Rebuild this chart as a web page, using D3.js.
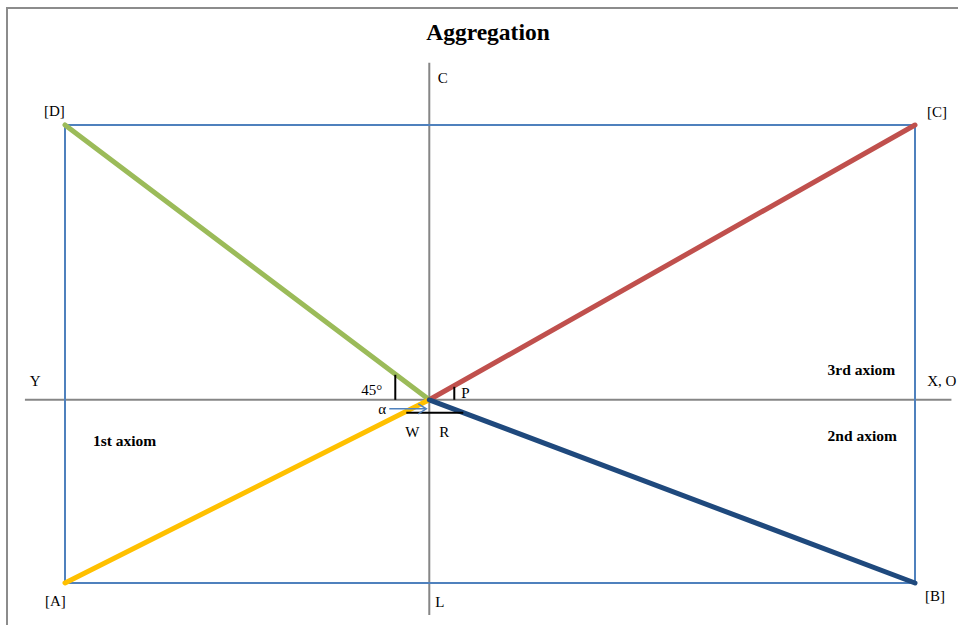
<!DOCTYPE html>
<html>
<head>
<meta charset="utf-8">
<script src="https://cdn.jsdelivr.net/npm/d3@7"></script>
<style>
  body { margin: 0; background: #fff; }
  text { font-family: 'Liberation Serif', 'Times New Roman', serif; fill: #000; }
</style>
</head>
<body>
<div id="target"></div>
<script>
const width = 958;
const height = 625;

// corner points of the frame (data units, origin at the axes crossing)
const corners = [
  { name: '[A]', x: -3, y: -2 },
  { name: '[B]', x: 4, y: -2 },
  { name: '[C]', x: 4, y: 3 },
  { name: '[D]', x: -3, y: 3 },
];
// rays from the origin to each corner
const rays = [
  { to: '[D]', color: '#9bbb59' },
  { to: '[C]', color: '#c0504d' },
  { to: '[A]', color: '#ffc000' },
  { to: '[B]', color: '#1f497d' },
];
const axisExtentX = [-3.33, 4.3];
const axisExtentY = [-2.35, 3.68];
const axisLabels = [
  { text: 'Y', x: -3.29, y: 0.15 },
  { text: 'X, O', x: 4.1, y: 0.15 },
  { text: 'C', x: 0.07, y: 3.46 },
  { text: 'L', x: 0.05, y: -2.26 },
];
const regionLabels = [
  { text: '1st axiom', x: -2.77, y: -0.5 },
  { text: '3rd axiom', x: 3.28, y: 0.27 },
  { text: '2nd axiom', x: 3.28, y: -0.45 },
];
const cornerLabelPos = {
  '[A]': { dx: -20, dy: 23 },
  '[B]': { dx: 10, dy: 18 },
  '[C]': { dx: 12, dy: -8 },
  '[D]': { dx: -21, dy: -9 },
};

const x = d3.scaleLinear().domain([-3, 4]).range([65, 915]);
const y = d3.scaleLinear().domain([-2, 3]).range([583, 125]);

const svg = d3.select('#target').append('svg').attr('width', width).attr('height', height);

// outer border
svg.append('path')
  .attr('d', `M7,${height} L7,8 L${width},8`)
  .attr('fill', 'none')
  .attr('stroke', '#8c8c8c')
  .attr('stroke-width', 2);

svg.append('text')
  .attr('x', 488)
  .attr('y', 40)
  .attr('text-anchor', 'middle')
  .style('font-size', '23.5px')
  .style('font-weight', 'bold')
  .text('Aggregation');

// axes
svg.append('line')
  .attr('x1', x(axisExtentX[0])).attr('x2', x(axisExtentX[1]))
  .attr('y1', y(0)).attr('y2', y(0))
  .attr('stroke', '#868686').attr('stroke-width', 2);
svg.append('line')
  .attr('x1', x(0)).attr('x2', x(0))
  .attr('y1', y(axisExtentY[0])).attr('y2', y(axisExtentY[1]))
  .attr('stroke', '#868686').attr('stroke-width', 2);

// frame
svg.append('polygon')
  .attr('points', corners.map((d) => [x(d.x), y(d.y)].join(',')).join(' '))
  .attr('fill', 'none')
  .attr('stroke', '#4f81bd')
  .attr('stroke-width', 2);

const byName = {};
corners.forEach((d) => { byName[d.name] = d; });

svg.selectAll('.ray')
  .data(rays)
  .enter()
  .append('line')
  .attr('class', 'ray')
  .attr('x1', x(0))
  .attr('y1', y(0))
  .attr('x2', function (d) { return x(byName[d.to].x); })
  .attr('y2', function (d) { return y(byName[d.to].y); })
  .attr('stroke', function (d) { return d.color; })
  .attr('stroke-width', 5)
  .attr('stroke-linecap', 'round');

// small marks around the origin
const cx = x(0);
const cy = y(0);
svg.append('line').attr('x1', cx - 34).attr('x2', cx - 34).attr('y1', cy - 25).attr('y2', cy)
  .attr('stroke', '#000').attr('stroke-width', 2);
svg.append('line').attr('x1', cx + 25).attr('x2', cx + 25).attr('y1', cy - 13).attr('y2', cy)
  .attr('stroke', '#000').attr('stroke-width', 2);
svg.append('line').attr('x1', cx - 23).attr('x2', cx + 34).attr('y1', cy + 13).attr('y2', cy + 13)
  .attr('stroke', '#000').attr('stroke-width', 2);

// alpha arrow
svg.append('line').attr('x1', cx - 40).attr('x2', cx - 4).attr('y1', cy + 9).attr('y2', cy + 9)
  .attr('stroke', '#4f81bd').attr('stroke-width', 1.5);
svg.append('path')
  .attr('d', `M${cx - 11},${cy + 4} L${cx - 3},${cy + 9} L${cx - 11},${cy + 14}`)
  .attr('fill', 'none').attr('stroke', '#4f81bd').attr('stroke-width', 1.5);

const small = [
  { text: '45°', px: cx - 68, py: cy - 5 },
  { text: 'P', px: cx + 32, py: cy - 2 },
  { text: 'α', px: cx - 51, py: cy + 14 },
  { text: 'W', px: cx - 24, py: cy + 37 },
  { text: 'R', px: cx + 10, py: cy + 37 },
];
svg.selectAll('.small')
  .data(small)
  .enter()
  .append('text')
  .attr('class', 'small')
  .attr('x', function (d) { return d.px; })
  .attr('y', function (d) { return d.py; })
  .style('font-size', '15px')
  .text(function (d) { return d.text; });

svg.selectAll('.corner')
  .data(corners)
  .enter()
  .append('text')
  .attr('class', 'corner')
  .attr('x', function (d) { return x(d.x) + cornerLabelPos[d.name].dx; })
  .attr('y', function (d) { return y(d.y) + cornerLabelPos[d.name].dy; })
  .style('font-size', '15px')
  .text(function (d) { return d.name; });

svg.selectAll('.axlabel')
  .data(axisLabels)
  .enter()
  .append('text')
  .attr('class', 'axlabel')
  .attr('x', function (d) { return x(d.x); })
  .attr('y', function (d) { return y(d.y); })
  .style('font-size', '15px')
  .text(function (d) { return d.text; });

svg.selectAll('.region')
  .data(regionLabels)
  .enter()
  .append('text')
  .attr('class', 'region')
  .attr('x', function (d) { return x(d.x); })
  .attr('y', function (d) { return y(d.y); })
  .style('font-size', '15.5px')
  .style('font-weight', 'bold')
  .text(function (d) { return d.text; });
</script>
</body>
</html>
